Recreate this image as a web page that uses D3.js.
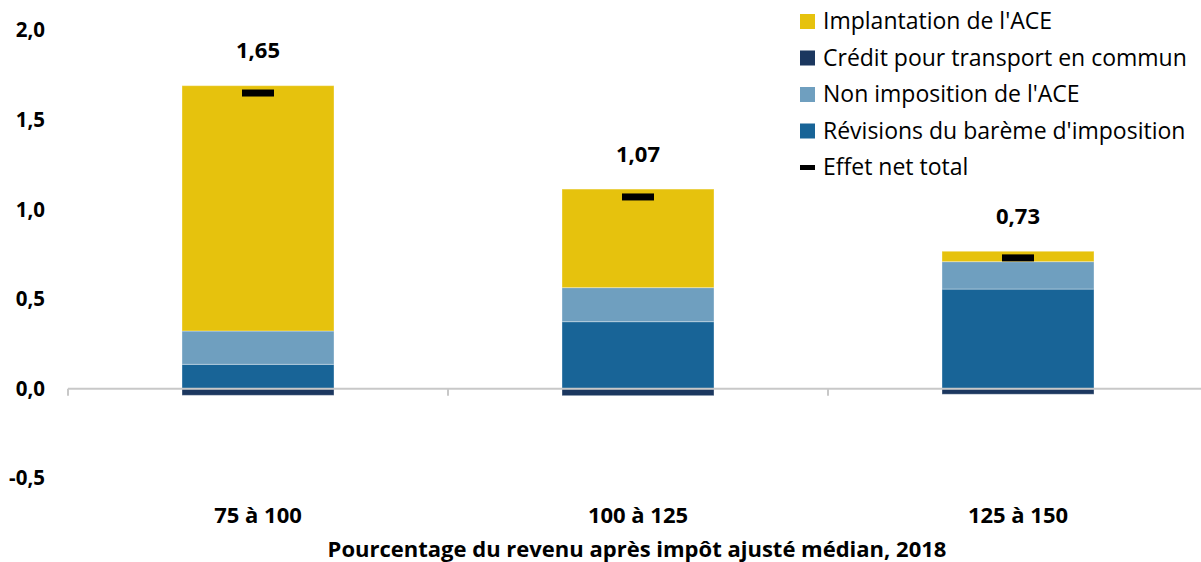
<!DOCTYPE html>
<html><head><meta charset="utf-8">
<script src="https://cdn.jsdelivr.net/npm/d3@7"></script>
<style>body{margin:0;background:#fff;}svg{display:block;font-family:"Open Sans",sans-serif;}</style>
</head><body>
<svg id="c" width="1201" height="562"></svg>
<script>
const categories = ["75 à 100", "100 à 125", "125 à 150"];
const revisions = [0.136, 0.374, 0.556];
const nonImposition = [0.186, 0.190, 0.153];
const implantation = [1.369, 0.550, 0.058];
const credit = [-0.037, -0.039, -0.031];
const netEffect = [1.65, 1.07, 0.73];
const yTicks = [-0.5, 0, 0.5, 1.0, 1.5, 2.0];
const seriesNames = ["Implantation de l'ACE", "Crédit pour transport en commun", "Non imposition de l'ACE", "Révisions du barème d'imposition", "Effet net total"];
const colors = {impl:"#E6C20D", credit:"#1B375F", nonimp:"#6F9FBF", rev:"#186497", net:"#000"};
const xTitle = "Pourcentage du revenu après impôt ajusté médian, 2018";

const fr = d3.formatLocale({decimal:",", thousands:" ", grouping:[3], currency:["","€"], minus:"-"});
const f1 = fr.format(".1f"), f2 = fr.format(".2f");

const svg = d3.select("#c");
const x = d3.scaleBand().domain(categories).range([68, 1208]).paddingInner(0.6).paddingOuter(0.3);
const y = d3.scaleLinear().domain([-0.5, 2.0]).range([478.3, 30.3]);

const keys = ["rev","nonimp","impl"];
const rows = categories.map((c,i)=>({cat:c, rev:revisions[i], nonimp:nonImposition[i], impl:implantation[i], credit:credit[i], net:netEffect[i]}));
const stack = d3.stack().keys(keys)(rows);

// y labels
svg.append("g").selectAll("text").data(yTicks).join("text")
  .attr("x", 45).attr("y", d=>y(d)).attr("dy","0.35em").attr("text-anchor","end")
  .attr("font-size",20.5).attr("font-weight","bold").attr("fill","#000")
  .text(d=>f1(d));

// bars
const g = svg.append("g");
stack.forEach(s=>{
  g.selectAll(null).data(s).join("rect")
    .attr("x", d=>x(d.data.cat)).attr("width", x.bandwidth())
    .attr("y", d=>y(d[1])).attr("height", d=>y(d[0])-y(d[1]))
    .attr("fill", colors[s.key]).attr("stroke","#fff").attr("stroke-opacity",0.35).attr("stroke-width",1);
});
g.selectAll(null).data(rows).join("rect")
  .attr("x", d=>x(d.cat)).attr("width", x.bandwidth())
  .attr("y", y(0)).attr("height", d=>y(d.credit)-y(0))
  .attr("fill", colors.credit).attr("stroke","#fff").attr("stroke-opacity",0.35).attr("stroke-width",1);

// axis
const axis = svg.append("g");
axis.append("line").attr("x1",68).attr("x2",1201).attr("y1",y(0)).attr("y2",y(0))
  .attr("stroke","#c8c8c8").attr("stroke-width",2);
axis.selectAll(null).data(categories).join("line")
  .attr("x1", c=>x(c)+x.bandwidth()/2 - x.step()/2).attr("x2", c=>x(c)+x.bandwidth()/2 - x.step()/2)
  .attr("y1", y(0)).attr("y2", y(0)+7).attr("stroke","#c8c8c8").attr("stroke-width",2);

// net markers
g.selectAll(null).data(rows).join("rect")
  .attr("x", d=>x(d.cat)+x.bandwidth()/2-16).attr("width",32)
  .attr("y", d=>y(d.net)-3.5).attr("height",7).attr("fill",colors.net);

// value labels
svg.append("g").selectAll("text").data(rows).join("text")
  .attr("x", d=>x(d.cat)+x.bandwidth()/2).attr("y", d=>y(d.rev+d.nonimp+d.impl)-35)
  .attr("dy","0.35em").attr("text-anchor","middle").attr("font-size",22).attr("font-weight","bold")
  .text(d=>f2(d.net));

// x labels
svg.append("g").selectAll("text").data(categories).join("text")
  .attr("x", c=>x(c)+x.bandwidth()/2).attr("y", 515).attr("dy","0.35em")
  .attr("text-anchor","middle").attr("font-size",22).attr("font-weight","bold").text(c=>c);
svg.append("text").attr("x",637).attr("y",549).attr("dy","0.35em").attr("text-anchor","middle")
  .attr("font-size",22).attr("font-weight","bold").text(xTitle);

// legend
const leg = svg.append("g");
const legColors = [colors.impl, colors.credit, colors.nonimp, colors.rev, null];
seriesNames.forEach((n,i)=>{
  const cy = 21 + i*36.5;
  if (legColors[i]) leg.append("rect").attr("x",800).attr("y",cy-7).attr("width",15).attr("height",15).attr("fill",legColors[i]);
  else leg.append("rect").attr("x",800).attr("y",cy-2).attr("width",15).attr("height",5).attr("fill","#000");
  leg.append("text").attr("x",823).attr("y",cy).attr("dy","0.35em").attr("font-size",23).text(n);
});
</script>
</body></html>
